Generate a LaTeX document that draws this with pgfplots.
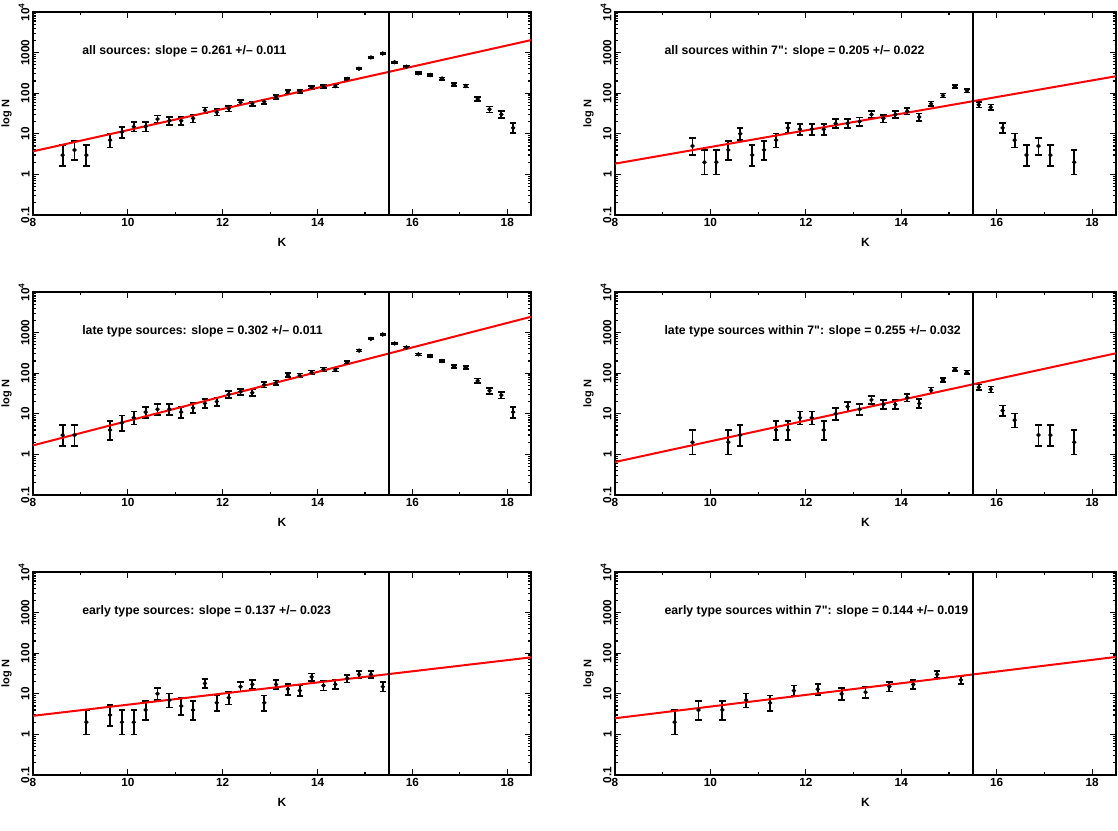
\documentclass[border=0pt]{standalone}
\usepackage{pgfplots}
\usepackage{pgfplotstable}
\pgfplotsset{compat=1.18}
\usepackage{fontspec}
\setmainfont{Liberation Sans}

\pgfplotstableread{
x y ep em
8.625 3 2.3 1.4
8.875 4 2.6 1.7
9.125 3 2.3 1.4
9.625 7 3.2 2.4
9.875 11 3.9 3.2
10.125 15 4.5 3.7
10.375 15 4.5 3.7
10.625 23 5.4 4.7
10.875 21 5.2 4.5
11.125 21 5.2 4.5
11.375 24 5.5 4.8
11.625 38 6.8 6.1
11.875 34 6.4 5.7
12.125 42 7.1 6.4
12.375 60 8.4 7.7
12.625 55 8.0 7.3
12.875 62 8.5 7.8
13.125 80 9.5 8.9
13.375 108 11.0 10.3
13.625 110 11.1 10.4
13.875 138 12.4 11.7
14.125 145 12.6 12.0
14.375 150 12.9 12.2
14.625 225 15.6 15
14.875 400 20.6 20
15.125 760 28.2 27.5
15.375 950 31.4 30.8
15.625 580 24.7 24.1
15.875 450 21.8 21.2
16.125 310 18.2 17.6
16.375 280 17.3 16.7
16.625 230 15.8 15.1
16.875 165 13.4 12.8
17.125 150 12.9 12.2
17.375 72 9.1 8.4
17.625 40 6.9 6.2
17.875 30 6.1 5.4
18.125 14 4.3 3.6
}\tA

\pgfplotstableread{
x y ep em
9.625 5 2.8 2.0
9.875 2 2.0 1.0
10.125 2 2.0 1.0
10.375 4 2.6 1.7
10.625 10 3.8 3.0
10.875 3 2.3 1.4
11.125 4 2.6 1.7
11.375 7 3.2 2.4
11.625 14 4.3 3.6
11.875 13 4.2 3.5
12.125 13 4.2 3.5
12.375 13 4.2 3.5
12.625 18 4.8 4.1
12.875 18 4.8 4.1
13.125 20 5.1 4.4
13.375 30 6.1 5.4
13.625 24 5.5 4.8
13.875 30 6.1 5.4
14.125 36 6.6 5.9
14.375 26 5.7 5.0
14.625 55 8.0 7.3
14.875 88 10.0 9.3
15.125 145 12.6 12.0
15.375 115 11.3 10.7
15.625 52 7.8 7.1
15.875 45 7.3 6.6
16.125 14 4.3 3.6
16.375 7 3.2 2.4
16.625 3 2.3 1.4
16.875 5 2.8 2.0
17.125 3 2.3 1.4
17.625 2 2.0 1.0
}\tB

\pgfplotstableread{
x y ep em
8.625 3 2.3 1.4
8.875 3 2.3 1.4
9.625 4 2.6 1.7
9.875 6 3.0 2.2
10.125 8 3.4 2.6
10.375 11 3.9 3.2
10.625 13 4.2 3.5
10.875 13 4.2 3.5
11.125 11 3.9 3.2
11.375 14 4.3 3.6
11.625 18 4.8 4.1
11.875 20 5.1 4.4
12.125 30 6.1 5.4
12.375 35 6.5 5.8
12.625 33 6.3 5.7
12.875 52 7.8 7.1
13.125 58 8.2 7.5
13.375 90 10.1 9.4
13.625 88 10.0 9.3
13.875 105 10.9 10.2
14.125 125 11.8 11.1
14.375 120 11.6 10.9
14.625 185 14.2 13.6
14.875 360 19.6 19
15.125 700 27.1 26.5
15.375 900 30.6 30
15.625 540 23.8 23.2
15.875 430 21.3 20.7
16.125 290 17.6 17.0
16.375 265 16.9 16.3
16.625 200 14.7 14.1
16.875 148 12.8 12.1
17.125 140 12.4 11.8
17.375 65 8.7 8.0
17.625 37 6.7 6.0
17.875 29 6.0 5.3
18.125 11 3.9 3.2
}\tC

\pgfplotstableread{
x y ep em
9.625 2 2.0 1.0
10.375 2 2.0 1.0
10.625 3 2.3 1.4
11.375 4 2.6 1.7
11.625 4 2.6 1.7
11.875 8 3.4 2.6
12.125 8 3.4 2.6
12.375 4 2.6 1.7
12.625 10 3.8 3.0
12.875 15 4.5 3.7
13.125 13 4.2 3.5
13.375 22 5.3 4.6
13.625 17 4.7 4.0
13.875 17 4.7 4.0
14.125 25 5.6 4.9
14.375 18 4.8 4.1
14.625 38 6.8 6.1
14.875 68 8.8 8.2
15.125 125 11.8 11.1
15.375 105 10.9 10.2
15.625 45 7.3 6.6
15.875 40 6.9 6.2
16.125 12 4.1 3.3
16.375 7 3.2 2.4
16.875 3 2.3 1.4
17.125 3 2.3 1.4
17.625 2 2.0 1.0
}\tD

\pgfplotstableread{
x y ep em
9.125 2 2.0 1.0
9.625 3 2.3 1.4
9.875 2 2.0 1.0
10.125 2 2.0 1.0
10.375 4 2.6 1.7
10.625 10 3.8 3.0
10.875 7 3.2 2.4
11.125 5 2.8 2.0
11.375 4 2.6 1.7
11.625 18 4.8 4.1
11.875 6 3.0 2.2
12.125 8 3.4 2.6
12.375 15 4.5 3.7
12.625 17 4.7 4.0
12.875 6 3.0 2.2
13.125 17 4.7 4.0
13.375 13 4.2 3.5
13.625 12 4.1 3.3
13.875 26 5.7 5.0
14.125 16 4.6 3.9
14.375 17 4.7 4.0
14.625 24 5.5 4.8
14.875 30 6.1 5.4
15.125 30 6.1 5.4
15.375 15 4.5 3.7
}\tE

\pgfplotstableread{
x y ep em
9.25 2 2.0 1.0
9.75 4 2.6 1.7
10.25 4 2.6 1.7
10.75 7 3.2 2.4
11.25 6 3.0 2.2
11.75 12 4.1 3.3
12.25 13 4.2 3.5
12.75 10 3.8 3.0
13.25 11 3.9 3.2
13.75 15 4.5 3.7
14.25 17 4.7 4.0
14.75 30 6.1 5.4
15.25 22 5.3 4.6
}\tF

\pgfplotsset{
  mypanel/.style={
    scale only axis, height=101.5pt,
    xmin=8, xmax=18.5, ymin=0.1, ymax=10000,
    xtick={8,10,12,14,16,18}, minor xtick={9,11,13,15,17},
    ytick={0.1,1,10,100,1000,10000},
    yticklabels={0.1,1,10,100,1000,10\textsuperscript{4}},
    tick align=inside, major tick length=3pt, minor tick length=1.6pt,
    axis line style={line width=0.9pt},
    every tick/.style={black, line width=0.6pt},
    xticklabel style={font=\fontsize{5.9}{6}\selectfont\bfseries, inner sep=1.5pt},
    yticklabel style={font=\fontsize{5.9}{6}\selectfont\bfseries, rotate=90, anchor=south, inner sep=1.5pt},
    xlabel={K}, ylabel={log N},
    xlabel style={at={(axis description cs:0.5,-0.133)}, anchor=center, font=\fontsize{6}{7}\selectfont\bfseries},
    ylabel style={at={(axis description cs:-0.053,0.5)}, anchor=center, font=\fontsize{5.5}{6}\selectfont\bfseries},
  },
  myfit/.style={red, line width=1pt, no marks},
  mycut/.style={black, line width=0.8pt, no marks},
}
\pgfkeys{/pgf/number format/assume math mode=true}
\tikzset{myann/.style={anchor=west, inner sep=0pt, font=\fontsize{6.15}{7}\selectfont\bfseries}}

\newcommand{\datplot}[1]{%
  \addplot[only marks, mark=*, mark size=0.9pt, black,
    error bars/.cd, y dir=both, y explicit,
    error bar style={line width=0.95pt},
    error mark options={rotate=90, mark size=1.6pt, line width=0.8pt}]
    table[x=x,y=y,y error plus=ep,y error minus=em]{#1};}

\begin{document}
\begin{tikzpicture}
\useasboundingbox (0,0) rectangle (559pt,-415pt);

\begin{semilogyaxis}[mypanel, width=249pt, at={(16.5pt,-107.5pt)}, anchor=south west]
\datplot{\tA}
\addplot[myfit] coordinates {(8,3.7) (18.5,2030)};
\addplot[mycut] coordinates {(15.5,0.1) (15.5,10000)};
\node[myann] at (axis cs:9.03,1100) {all sources: slope = 0.261 +/-- 0.011};
\end{semilogyaxis}

\begin{semilogyaxis}[mypanel, width=250.5pt, at={(307.5pt,-107.5pt)}, anchor=south west]
\datplot{\tB}
\addplot[myfit] coordinates {(8,1.84) (18.5,262)};
\addplot[mycut] coordinates {(15.5,0.1) (15.5,10000)};
\node[myann] at (axis cs:9.03,1100) {all sources within 7\textquotedbl: slope = 0.205 +/-- 0.022};
\end{semilogyaxis}

\begin{semilogyaxis}[mypanel, width=249pt, at={(16.5pt,-247.5pt)}, anchor=south west]
\datplot{\tC}
\addplot[myfit] coordinates {(8,1.67) (18.5,2450)};
\addplot[mycut] coordinates {(15.5,0.1) (15.5,10000)};
\node[myann] at (axis cs:9.03,1100) {late type sources: slope = 0.302 +/-- 0.011};
\end{semilogyaxis}

\begin{semilogyaxis}[mypanel, width=250.5pt, at={(307.5pt,-247.5pt)}, anchor=south west]
\datplot{\tD}
\addplot[myfit] coordinates {(8,0.65) (18.5,310)};
\addplot[mycut] coordinates {(15.5,0.1) (15.5,10000)};
\node[myann] at (axis cs:9.03,1100) {late type sources within 7\textquotedbl: slope = 0.255 +/-- 0.032};
\end{semilogyaxis}

\begin{semilogyaxis}[mypanel, width=249pt, at={(16.5pt,-387.5pt)}, anchor=south west]
\datplot{\tE}
\addplot[myfit] coordinates {(8,2.87) (18.5,79)};
\addplot[mycut] coordinates {(15.5,0.1) (15.5,10000)};
\node[myann] at (axis cs:9.03,1100) {early type sources: slope = 0.137 +/-- 0.023};
\end{semilogyaxis}

\begin{semilogyaxis}[mypanel, width=250.5pt, at={(307.5pt,-387.5pt)}, anchor=south west]
\datplot{\tF}
\addplot[myfit] coordinates {(8,2.5) (18.5,81)};
\addplot[mycut] coordinates {(15.5,0.1) (15.5,10000)};
\node[myann] at (axis cs:9.03,1100) {early type sources within 7\textquotedbl: slope = 0.144 +/-- 0.019};
\end{semilogyaxis}
\end{tikzpicture}
\end{document}
